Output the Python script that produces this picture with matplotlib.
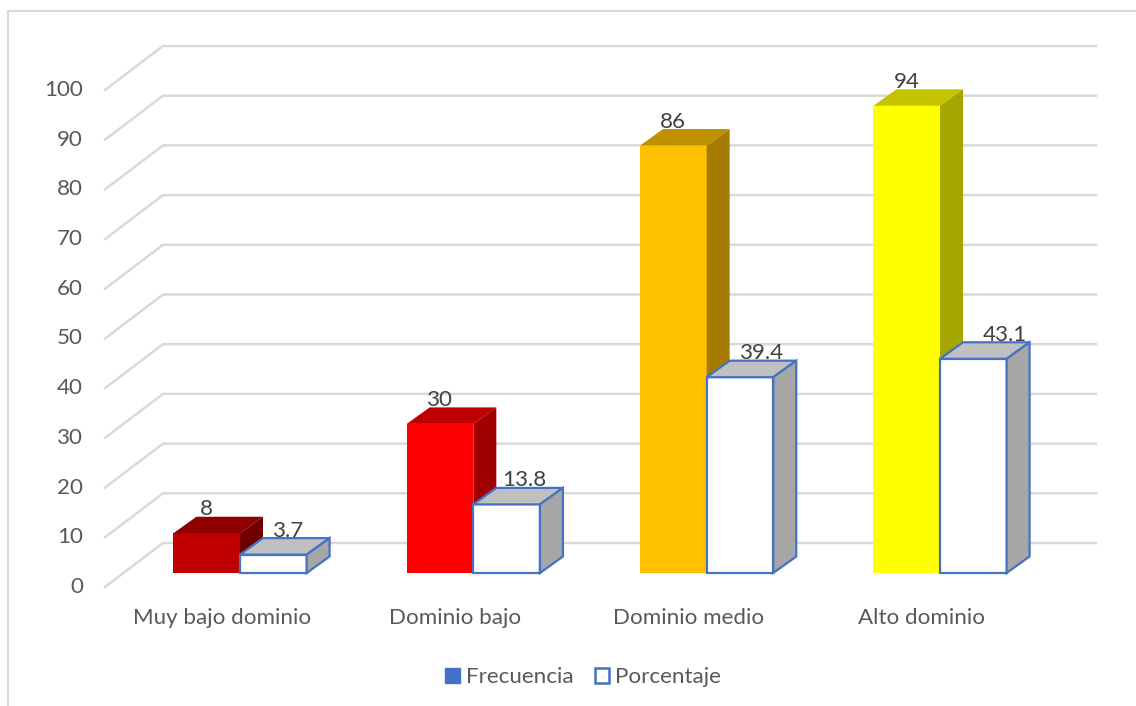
import matplotlib
matplotlib.use("Agg")
import matplotlib.pyplot as plt
from matplotlib.lines import Line2D
from matplotlib.patches import Patch, Polygon
from matplotlib.transforms import ScaledTranslation

categories = ["Muy bajo dominio", "Dominio bajo", "Dominio medio", "Alto dominio"]
frecuencia = [8, 30, 86, 94]
porcentaje = [3.7, 13.8, 39.4, 43.1]
y_ticks = [0, 10, 20, 30, 40, 50, 60, 70, 80, 90, 100]

bar_colors = ["#C00000", "#FF0000", "#FFC000", "#FFFF00"]
top_colors = ["#900000", "#BF0000", "#BF9000", "#C4C400"]
side_colors = ["#700000", "#A00000", "#A67C00", "#A6A600"]
blue = "#4472C4"
grid_color = "#D9D9D9"
text_color = "#595959"
label_color = "#404040"

plt.rcParams["font.family"] = ["Lato", "DejaVu Sans"]

W, H = 1136, 706
DPI = 100
PX = 72 / DPI
FONT = 22.4 * PX

# pixel layout of the plot
cat_px = 233.33
px_per_unit = 4.97
first_cat_px = 240
left_px, right_px = 105, 1096
floor_px = 573
bar_w = 66.6 / cat_px
depth_x = 23 / cat_px
depth_y = 16.5 / px_per_unit
wall_x = (163 - first_cat_px) / cat_px
wall_y = (floor_px - 543) / px_per_unit
front_y = (floor_px - 587) / px_per_unit

# horizontal nudge of the second series' labels, px
pct_label_dx = [15, 18, 22, 32]

fig = plt.figure(figsize=(W / DPI, H / DPI), dpi=DPI, facecolor="white")
top_px = floor_px - 100 * px_per_unit
ax = fig.add_axes([left_px / W, 1 - floor_px / H, (right_px - left_px) / W, (floor_px - top_px) / H])
ax.set_xlim((left_px - first_cat_px) / cat_px, (right_px - first_cat_px) / cat_px)
ax.set_ylim(0, 100)
for s in ax.spines.values():
    s.set_visible(False)
ax.patch.set_visible(False)

# chart frame, only top and left show in the crop
fig.add_artist(Line2D([8 / W, 8 / W, 1], [0, 1 - 11 / H, 1 - 11 / H], transform=fig.transFigure,
                      color=grid_color, lw=1.5, solid_joinstyle="miter"))

# gridlines on the wall and floor
xmin, xmax = ax.get_xlim()
for v in y_ticks:
    ax.plot([xmin, wall_x, xmax], [v + front_y, v + wall_y, v + wall_y],
            color=grid_color, lw=1.8, clip_on=False, zorder=1, solid_joinstyle="miter")


def draw_box(x, h, face, top, side, edge=None):
    lw = 1.6 if edge else 0
    ec = edge if edge else "none"
    ax.bar(x, h, bar_w, align="edge", color=face, edgecolor=ec, linewidth=lw, zorder=3, clip_on=False)
    ax.add_patch(Polygon([(x, h), (x + depth_x, h + depth_y), (x + bar_w + depth_x, h + depth_y), (x + bar_w, h)],
                         facecolor=top, edgecolor=ec, lw=lw, zorder=3, clip_on=False))
    ax.add_patch(Polygon([(x + bar_w, 0), (x + bar_w + depth_x, depth_y), (x + bar_w + depth_x, h + depth_y), (x + bar_w, h)],
                         facecolor=side, edgecolor=ec, lw=lw, zorder=3, clip_on=False))


for i in range(len(categories)):
    draw_box(i - bar_w, frecuencia[i], bar_colors[i], top_colors[i], side_colors[i])
    draw_box(i, porcentaje[i], "white", "#C0C0C0", "#A6A6A6", edge=blue)

    ax.annotate(str(frecuencia[i]), (i - bar_w / 2, frecuencia[i]), xytext=(0, 24 * PX),
                textcoords="offset points", ha="center", va="center", fontsize=FONT,
                color=label_color, zorder=5, annotation_clip=False)
    ax.annotate(str(porcentaje[i]), (i + bar_w / 2, porcentaje[i]), xytext=(pct_label_dx[i] * PX, 24 * PX),
                textcoords="offset points", ha="center", va="center", fontsize=FONT,
                color=label_color, zorder=5, annotation_clip=False)

# ticks
ax.set_yticks(y_ticks)
ax.set_xticks(range(len(categories)))
ax.set_xticklabels(categories)
ax.tick_params(axis="both", length=0, labelsize=FONT, labelcolor=text_color)
ax.tick_params(axis="y", pad=22 * PX)
ax.tick_params(axis="x", pad=35 * PX)
y_shift = ScaledTranslation(0, -12 / DPI, fig.dpi_scale_trans)
for lab in ax.get_yticklabels():
    lab.set_transform(lab.get_transform() + y_shift)
x_shift = ScaledTranslation(-18 / DPI, 0, fig.dpi_scale_trans)
for lab in ax.get_xticklabels():
    lab.set_transform(lab.get_transform() + x_shift)

handles = [Patch(facecolor=blue, edgecolor=blue, label="Frecuencia"),
           Patch(facecolor="white", edgecolor=blue, lw=1.8, label="Porcentaje")]
fig.legend(handles=handles, loc="center", bbox_to_anchor=(583 / W, 1 - 677 / H), ncol=2, frameon=False,
           fontsize=FONT, labelcolor=text_color, handlelength=0.65, handleheight=0.65,
           handletextpad=0.25, columnspacing=0.95)

fig.savefig("out.png", dpi=DPI, facecolor="white")
